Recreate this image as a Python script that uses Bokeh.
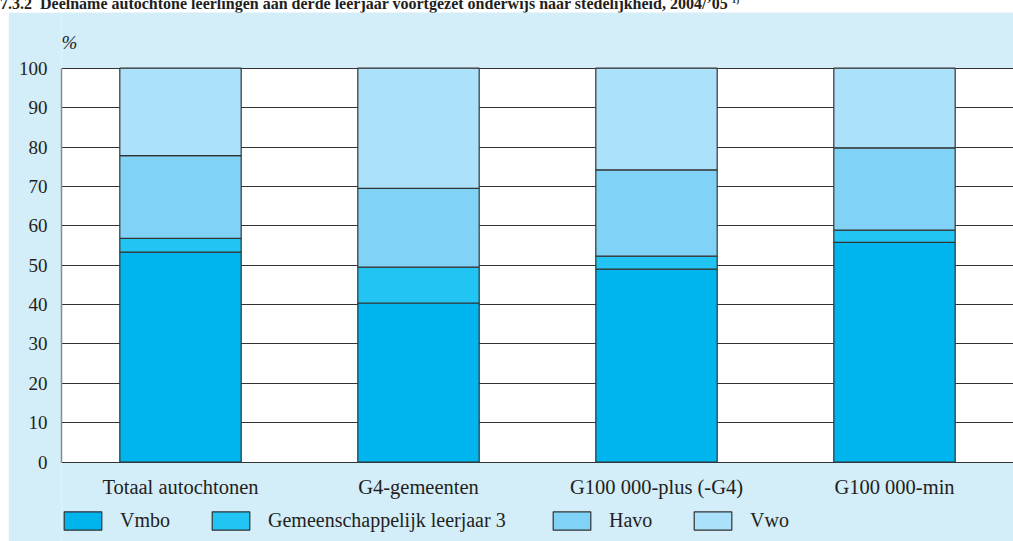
from bokeh.plotting import figure
from bokeh.models import (FactorRange, Range1d, FixedTicker, Label, Legend,
                          LegendItem, Div, ColumnDataSource)
from bokeh.core.properties import value
from bokeh.layouts import column
from bokeh.embed import file_html
from bokeh.resources import INLINE

# ---- data ----
categories = ["Totaal autochtonen", "G4-gemeenten", "G100 000-plus (-G4)", "G100 000-min"]
series = ["Vmbo", "Gemeenschappelijk leerjaar 3", "Havo", "Vwo"]
vmbo = [53.3, 40.4, 49.0, 55.8]
gl3 = [3.5, 9.1, 3.3, 3.1]
havo = [21.0, 20.0, 21.9, 20.9]
vwo = [22.2, 30.5, 25.8, 20.2]
y_ticks = [0, 10, 20, 30, 40, 50, 60, 70, 80, 90, 100]
title_text = ("7.3.2&nbsp;&nbsp;Deelname autochtone leerlingen aan derde leerjaar voortgezet "
              "onderwijs naar stedelijkheid, 2004/\u201905 <sup style='font-size:9px'>1)</sup>")

colors = ["#00b4ee", "#21c4f3", "#80d3f6", "#abe1fa"]
BG = "#d3edf9"
FONT = "Liberation Serif"
TXT = "#231f20"

# layout constants (vertical extent of frame in data units)
Y_TOP = 114.14
Y_BOTTOM = -20.13
LABEL_Y = -6.4

data = {"cat": categories, "Vmbo": vmbo, "Gemeenschappelijk leerjaar 3": gl3,
        "Havo": havo, "Vwo": vwo}

p = figure(x_range=FactorRange(factors=categories), y_range=Range1d(Y_BOTTOM, Y_TOP),
           width=1005, height=529, output_backend="svg", toolbar_location=None,
           x_axis_location=None,
           min_border_left=53, min_border_right=0, min_border_top=0,
           min_border_bottom=0, margin=(0, 0, 0, 8))
p.background_fill_color = BG
p.border_fill_color = BG
p.outline_line_color = None

# white plotting area
p.quad(left=[0], right=[len(categories)], bottom=[y_ticks[0]], top=[y_ticks[-1]],
       fill_color="white", line_color=None, level="underlay")

renderers = p.vbar_stack(series, x="cat", width=0.51, source=data,
                         fill_color=colors, line_color="#333333", line_width=1.2)

# y axis
p.yaxis.ticker = FixedTicker(ticks=y_ticks)
p.yaxis.bounds = (y_ticks[0], y_ticks[-1])
p.yaxis.major_tick_line_color = None
p.yaxis.minor_tick_line_color = None
p.yaxis.axis_line_color = "#8a8a8a"
p.yaxis.axis_line_width = 1.5
p.yaxis.major_label_standoff = 8
p.yaxis.major_label_text_font = FONT
p.yaxis.major_label_text_font_size = "19px"
p.yaxis.major_label_text_color = TXT

p.xgrid.grid_line_color = None
p.ygrid.ticker = FixedTicker(ticks=y_ticks)
p.ygrid.grid_line_color = "#333333"
p.ygrid.grid_line_width = 1.2
p.ygrid.level = "underlay"

# category labels
lab_src = ColumnDataSource({"cat": categories, "y": [LABEL_Y] * len(categories)})
p.text(x="cat", y="y", text="cat", source=lab_src, text_font=value(FONT),
       text_font_size="20.5px", text_color=TXT, text_align="center",
       text_baseline="alphabetic")

p.add_layout(Label(x=0, y=106.6, text="%", text_font=FONT, text_font_style="italic",
                   text_font_size="19px", text_color=TXT, text_baseline="alphabetic"))

# legend: one per item to place precisely
legend_x = [-2, 146, 487, 628]
for r, name, lx in zip(renderers, series, legend_x):
    lg = Legend(items=[LegendItem(label=name, renderers=[r])], location=(lx, 9),
                orientation="horizontal", glyph_width=47, glyph_height=23,
                label_standoff=14, padding=0, margin=0, spacing=0,
                background_fill_alpha=0, border_line_color=None,
                label_text_font=FONT, label_text_font_size="20px",
                label_text_color=TXT, label_height=23)
    p.add_layout(lg, "center")

title = Div(text=title_text, width=1013, height=20, margin=(-8, 0, 0, 0),
            styles={"font-family": FONT, "font-weight": "bold", "font-size": "16px",
                    "line-height": "16px", "color": TXT, "white-space": "nowrap"})

layout = column(title, p, spacing=0)
open("out.html", "w").write(file_html(layout, INLINE))
